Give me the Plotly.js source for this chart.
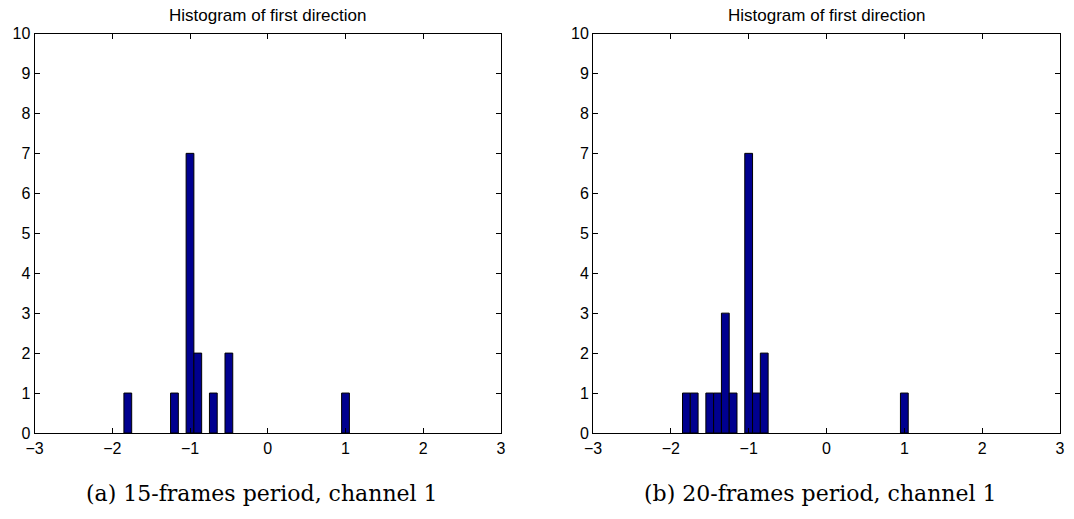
<!DOCTYPE html>
<html>
<head>
<meta charset="utf-8">
<script src="https://cdn.plot.ly/plotly-3.0.1.min.js"></script>
<style>
  html, body { margin: 0; padding: 0; background: #fff; }
  #chart { width: 1074px; height: 519px; }
</style>
</head>
<body>
<div id="chart"></div>
<script>
// Panel (a): 15-frames period, channel 1
const binCentersA = [-1.8, -1.2, -1.0, -0.9, -0.7, -0.5, 1.0];
const countsA     = [1, 1, 7, 2, 1, 2, 1];
// Panel (b): 20-frames period, channel 1
const binCentersB = [-1.8, -1.7, -1.5, -1.4, -1.3, -1.2, -1.0, -0.9, -0.8, 1.0];
const countsB     = [1, 1, 1, 1, 3, 1, 7, 1, 2, 1];

const binWidth = 0.1;
const panelTitle = 'Histogram of first direction';
const captions = ['(a) 15-frames period, channel 1', '(b) 20-frames period, channel 1'];
const xTicks = [-3, -2, -1, 0, 1, 2, 3];
const yTicks = [0, 1, 2, 3, 4, 5, 6, 7, 8, 9, 10];

const barStyle = { color: '#00008F', line: { color: '#000000', width: 1 } };

const traces = [
  { type: 'bar', x: binCentersA, y: countsA, width: binWidth, marker: barStyle,
    xaxis: 'x', yaxis: 'y', hoverinfo: 'x+y' },
  { type: 'bar', x: binCentersB, y: countsB, width: binWidth, marker: barStyle,
    xaxis: 'x2', yaxis: 'y2', hoverinfo: 'x+y' }
];

const sansFamily = 'Liberation Sans, Arial, Helvetica, sans-serif';
const tickFont = { family: sansFamily, size: 16, color: '#000' };

function xAxis(domain, anchor) {
  return {
    domain: domain, anchor: anchor, range: [-3, 3],
    tickmode: 'array', tickvals: xTicks,
    ticks: 'inside', ticklen: 5, tickcolor: '#000',
    showline: true, mirror: 'ticks', linecolor: '#000', linewidth: 1,
    showgrid: false, zeroline: false, tickfont: tickFont, fixedrange: true,
    ticklabelstandoff: 1
  };
}
function yAxis(domain, anchor) {
  return {
    domain: domain, anchor: anchor, range: [0, 10],
    tickmode: 'array', tickvals: yTicks,
    ticks: 'inside', ticklen: 5, tickcolor: '#000',
    showline: true, mirror: 'ticks', linecolor: '#000', linewidth: 1,
    showgrid: false, zeroline: false, tickfont: tickFont, fixedrange: true
  };
}

const W = 1074, H = 519;
const yDom = [(H - 433) / H, (H - 33.5) / H];
const xDomA = [34.5 / W, 501 / W];
const xDomB = [593 / W, 1060 / W];

function note(text, xDom, yPix, dxPix, font) {
  return { text: text, x: (xDom[0] + xDom[1]) / 2 + dxPix / W, y: (H - yPix) / H,
    xref: 'paper', yref: 'paper', xanchor: 'center', yanchor: 'middle',
    showarrow: false, font: font };
}
const titleFont = { family: sansFamily, size: 17, color: '#000' };
const captionFont = { family: 'DejaVu Serif, Liberation Serif, serif', size: 22, color: '#000' };

const annotations = [
  note(panelTitle, xDomA, 15, 0, titleFont),
  note(panelTitle, xDomB, 15, 0, titleFont),
  note(captions[0], xDomA, 493, -6, captionFont),
  note(captions[1], xDomB, 493, -6, captionFont)
];

const layout = {
  width: W, height: H,
  margin: { l: 0, r: 0, t: 0, b: 0 },
  paper_bgcolor: '#fff', plot_bgcolor: '#fff',
  showlegend: false, bargap: 0,
  xaxis: xAxis(xDomA, 'y'),
  yaxis: yAxis(yDom, 'x'),
  xaxis2: xAxis(xDomB, 'y2'),
  yaxis2: yAxis(yDom, 'x2'),
  annotations: annotations
};

Plotly.newPlot('chart', traces, layout, { displayModeBar: false, staticPlot: true });
</script>
</body>
</html>
